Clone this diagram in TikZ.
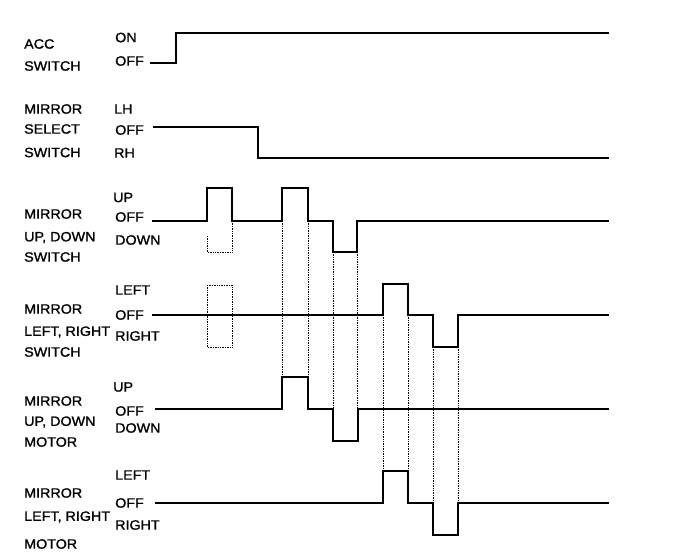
\documentclass[tikz,border=0pt]{standalone}
\usepackage{fontspec}
\setmainfont{Liberation Sans}[FakeStretch=1.06,FakeBold=1.2]
\begin{document}
\begin{tikzpicture}[x=1pt,y=-1pt,
  every node/.style={anchor=west,inner sep=0pt,font=\fontsize{13.5}{14}\selectfont},
  sig/.style={line width=2pt,line join=miter},
  ghost/.style={densely dotted,line width=0.7pt}]
\useasboundingbox (0,0) rectangle (688,554);
% signal names
\node (acc1) at (24,44) {ACC};
\node (acc2) at (24,66) {SWITCH};
\node (sel1) at (24,109) {MIRROR};
\node (sel2) at (24,129) {SELECT};
\node (sel3) at (24,152.5) {SWITCH};
\node (uds1) at (24,214) {MIRROR};
\node (uds2) at (24,237.5) {UP, DOWN};
\node (uds3) at (24,257) {SWITCH};
\node (lrs1) at (24,309) {MIRROR};
\node (lrs2) at (24,332) {LEFT, RIGHT};
\node (lrs3) at (24,352) {SWITCH};
\node (udm1) at (24,401) {MIRROR};
\node (udm2) at (24,422) {UP, DOWN};
\node (udm3) at (24,442) {MOTOR};
\node (lrm1) at (24,493) {MIRROR};
\node (lrm2) at (24,517) {LEFT, RIGHT};
\node (lrm3) at (24,544) {MOTOR};
% levels
\node (accon) at (115,37.5) {ON};
\node (accoff) at (115,61) {OFF};
\node (sellh) at (114,109) {LH};
\node (seloff) at (115,130) {OFF};
\node (selrh) at (114,153) {RH};
\node (udsup) at (113,197.5) {UP};
\node (udsoff) at (115,217) {OFF};
\node (udsdn) at (115,240) {DOWN};
\node (lrsl) at (115,290) {LEFT};
\node (lrsoff) at (115,315) {OFF};
\node (lrsr) at (115,336) {RIGHT};
\node (udmup) at (113,387) {UP};
\node (udmoff) at (115,411) {OFF};
\node (udmdn) at (115,428) {DOWN};
\node (lrml) at (115,475) {LEFT};
\node (lrmoff) at (115,503) {OFF};
\node (lrmr) at (115,525) {RIGHT};
% signals
\draw[sig] (150,63) -- (176,63) -- (176,32.5) -- (609,32.5);
\draw[sig] (153,127) -- (258,127) -- (258,158) -- (609,158);
\draw[sig] (152,221) -- (207,221) -- (207,188) -- (232,188) -- (232,221)
  -- (282,221) -- (282,188) -- (308,188) -- (308,221) -- (333,221)
  -- (333,252) -- (357,252) -- (357,221) -- (609,221);
\draw[sig] (152,315) -- (383,315) -- (383,284) -- (408,284) -- (408,315)
  -- (433,315) -- (433,347) -- (458,347) -- (458,315) -- (609,315);
\draw[sig] (155,409) -- (282,409) -- (282,377) -- (308,377) -- (308,409)
  -- (333,409) -- (333,441) -- (358,441) -- (358,409) -- (609,409);
\draw[sig] (155,503) -- (383,503) -- (383,471) -- (408,471) -- (408,503)
  -- (433,503) -- (433,535) -- (458,535) -- (458,503) -- (609,503);
% dotted guides
\draw[ghost] (207,236) -- (207,252) -- (232,252) -- (232,221);
\draw[ghost] (207,285) rectangle (232,347);
\foreach \x in {282,308} \draw[ghost] (\x,221) -- (\x,377);
\foreach \x in {333,357} \draw[ghost] (\x,252) -- (\x,409);
\foreach \x in {383,408} \draw[ghost] (\x,315) -- (\x,471);
\foreach \x in {433,458} \draw[ghost] (\x,347) -- (\x,503);
\end{tikzpicture}
\end{document}
